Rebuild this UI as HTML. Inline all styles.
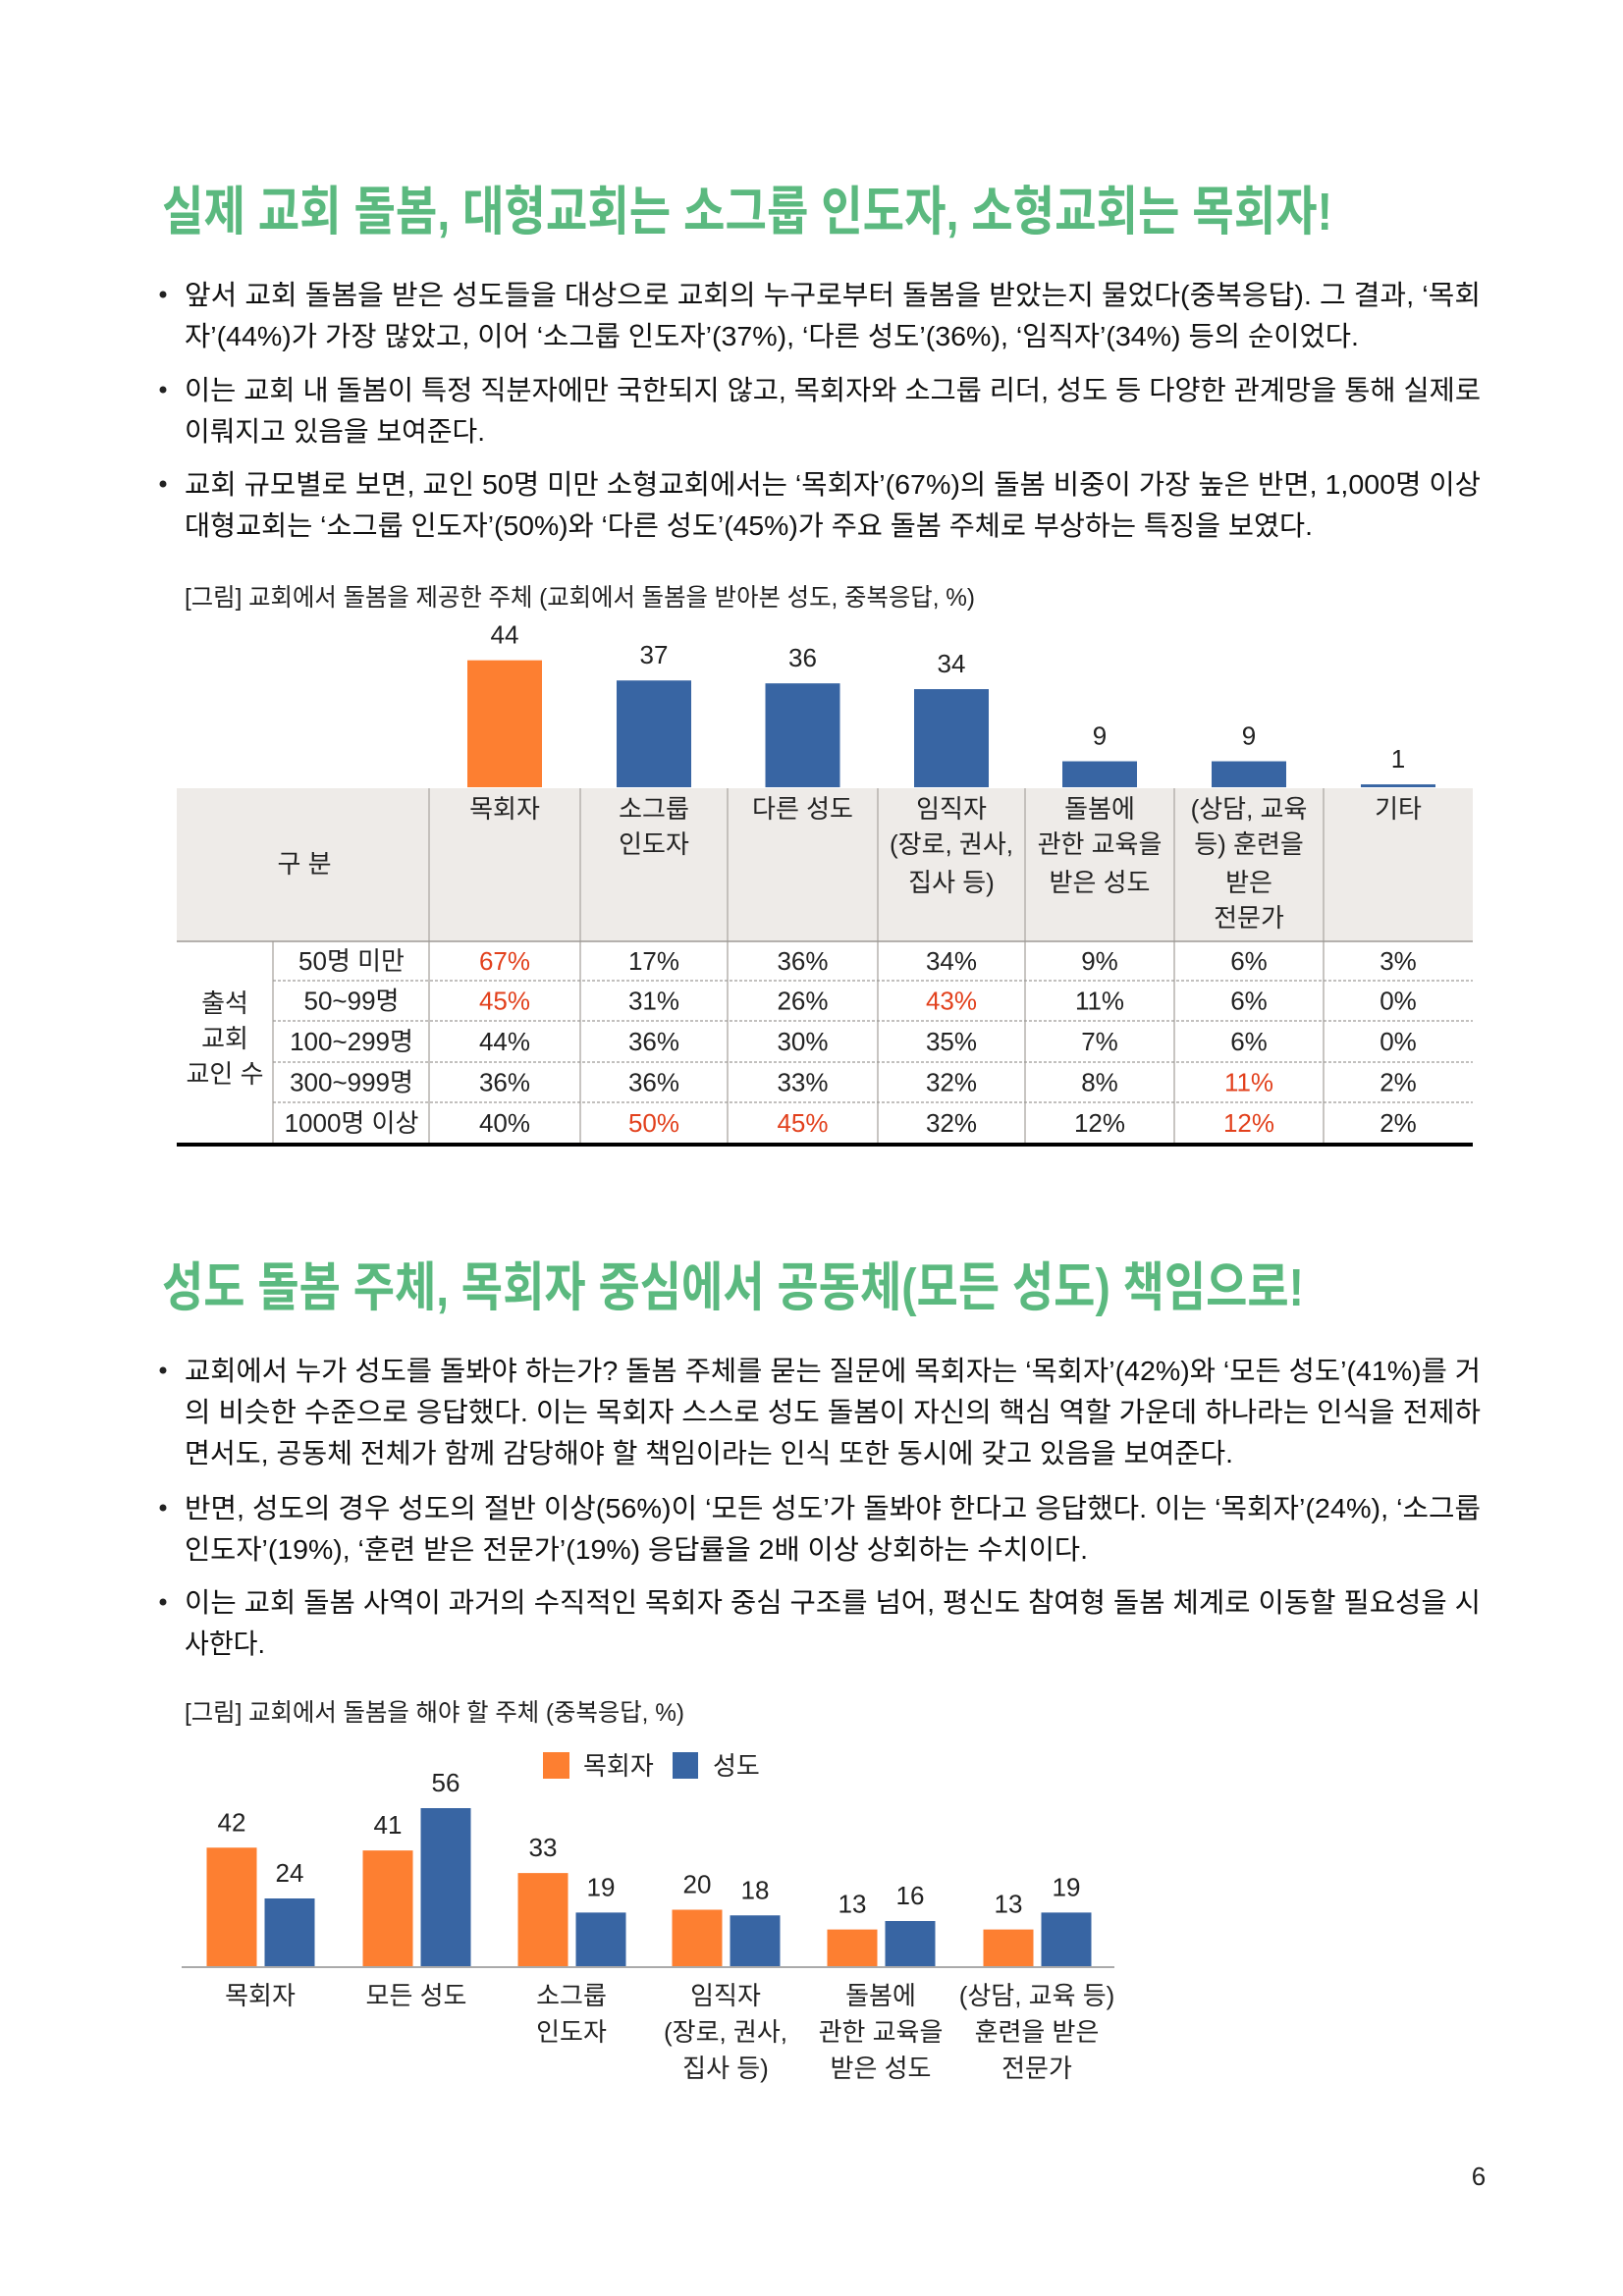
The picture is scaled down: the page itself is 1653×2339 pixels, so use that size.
<!DOCTYPE html>
<html><head><meta charset="utf-8"><style>
html,body{margin:0;padding:0;background:#fff;}
svg{display:block;}
text{font-family:"Liberation Sans","Noto Sans CJK KR",sans-serif;}
.t{font-size:54px;font-weight:bold;fill:#5bb97f;}
.b{font-size:28px;fill:#111;}
.c{font-size:25px;fill:#222;}
.h{font-size:26px;fill:#222;}
.n{font-size:26px;fill:#222;}
</style></head><body>
<svg id="page" width="1653" height="2339" viewBox="0 0 1653 2339" xmlns="http://www.w3.org/2000/svg">
<text class="t" x="165" y="234" textLength="1192" lengthAdjust="spacingAndGlyphs">실제 교회 돌봄, 대형교회는 소그룹 인도자, 소형교회는 목회자!</text>
<g>
<circle cx="166" cy="300" r="3.5" fill="#222"/>
<text class="b" x="188" y="310" textLength="1320" lengthAdjust="spacingAndGlyphs">앞서 교회 돌봄을 받은 성도들을 대상으로 교회의 누구로부터 돌봄을 받았는지 물었다(중복응답). 그 결과, ‘목회</text>
<text class="b" x="188" y="352" textLength="1196" lengthAdjust="spacingAndGlyphs">자’(44%)가 가장 많았고, 이어 ‘소그룹 인도자’(37%), ‘다른 성도’(36%), ‘임직자’(34%) 등의 순이었다.</text>
<circle cx="166" cy="397" r="3.5" fill="#222"/>
<text class="b" x="188" y="407" textLength="1320" lengthAdjust="spacingAndGlyphs">이는 교회 내 돌봄이 특정 직분자에만 국한되지 않고, 목회자와 소그룹 리더, 성도 등 다양한 관계망을 통해 실제로</text>
<text class="b" x="188" y="449" textLength="306" lengthAdjust="spacingAndGlyphs">이뤄지고 있음을 보여준다.</text>
<circle cx="166" cy="493" r="3.5" fill="#222"/>
<text class="b" x="188" y="503" textLength="1320" lengthAdjust="spacingAndGlyphs">교회 규모별로 보면, 교인 50명 미만 소형교회에서는 ‘목회자’(67%)의 돌봄 비중이 가장 높은 반면, 1,000명 이상</text>
<text class="b" x="188" y="545" textLength="1149" lengthAdjust="spacingAndGlyphs">대형교회는 ‘소그룹 인도자’(50%)와 ‘다른 성도’(45%)가 주요 돌봄 주체로 부상하는 특징을 보였다.</text>
</g>
<text class="c" x="188" y="617" textLength="805" lengthAdjust="spacingAndGlyphs">[그림] 교회에서 돌봄을 제공한 주체 (교회에서 돌봄을 받아본 성도, 중복응답, %)</text>

<g id="table">
<rect x="180" y="803" width="1320" height="156" fill="#eeebe8"/>
<text class="h" x="310" y="889" text-anchor="middle">구 분</text>
<g id="hdr"></g>
<g id="grid"></g>
<text class="h" text-anchor="middle"><tspan x="229" y="1031">출석</tspan><tspan x="229" y="1067">교회</tspan><tspan x="229" y="1103">교인 수</tspan></text>
<g id="cells"></g>
</g>
<g id="chart1"></g>

<text class="t" x="165" y="1330" textLength="1163" lengthAdjust="spacingAndGlyphs">성도 돌봄 주체, 목회자 중심에서 공동체(모든 성도) 책임으로!</text>
<g>
<circle cx="166" cy="1396" r="3.5" fill="#222"/>
<text class="b" x="188" y="1406" textLength="1320" lengthAdjust="spacingAndGlyphs">교회에서 누가 성도를 돌봐야 하는가? 돌봄 주체를 묻는 질문에 목회자는 ‘목회자’(42%)와 ‘모든 성도’(41%)를 거</text>
<text class="b" x="188" y="1448" textLength="1320" lengthAdjust="spacingAndGlyphs">의 비슷한 수준으로 응답했다. 이는 목회자 스스로 성도 돌봄이 자신의 핵심 역할 가운데 하나라는 인식을 전제하</text>
<text class="b" x="188" y="1490" textLength="1068" lengthAdjust="spacingAndGlyphs">면서도, 공동체 전체가 함께 감당해야 할 책임이라는 인식 또한 동시에 갖고 있음을 보여준다.</text>
<circle cx="166" cy="1536" r="3.5" fill="#222"/>
<text class="b" x="188" y="1546" textLength="1320" lengthAdjust="spacingAndGlyphs">반면, 성도의 경우 성도의 절반 이상(56%)이 ‘모든 성도’가 돌봐야 한다고 응답했다. 이는 ‘목회자’(24%), ‘소그룹</text>
<text class="b" x="188" y="1588" textLength="920" lengthAdjust="spacingAndGlyphs">인도자’(19%), ‘훈련 받은 전문가’(19%) 응답률을 2배 이상 상회하는 수치이다.</text>
<circle cx="166" cy="1632" r="3.5" fill="#222"/>
<text class="b" x="188" y="1642" textLength="1320" lengthAdjust="spacingAndGlyphs">이는 교회 돌봄 사역이 과거의 수직적인 목회자 중심 구조를 넘어, 평신도 참여형 돌봄 체계로 이동할 필요성을 시</text>
<text class="b" x="188" y="1684" textLength="82" lengthAdjust="spacingAndGlyphs">사한다.</text>
</g>
<text class="c" x="188" y="1753" textLength="509" lengthAdjust="spacingAndGlyphs">[그림] 교회에서 돌봄을 해야 할 주체 (중복응답, %)</text>
<g>
<rect x="553" y="1785" width="27" height="27" fill="#fd7f31"/>
<text class="n" x="594" y="1808">목회자</text>
<rect x="685" y="1785" width="26" height="27" fill="#3865a3"/>
<text class="n" x="726" y="1808">성도</text>
</g>
<g id="chart2"></g>
<text class="n" x="1506" y="2226" text-anchor="middle">6</text>
</svg>
<script>
// Chart 1 data
const cats1 = ['목회자','소그룹 인도자','다른 성도','임직자','돌봄에 관한 교육을 받은 성도','(상담, 교육 등) 훈련을 받은 전문가','기타'];
const vals1 = [44,37,36,34,9,9,1];
const headerLines = [['목회자'],['소그룹','인도자'],['다른 성도'],['임직자','(장로, 권사,','집사  등)'],['돌봄에','관한 교육을','받은 성도'],['(상담, 교육','등) 훈련을','받은','전문가'],['기타']];
const rowLabels = ['50명 미만','50~99명','100~299명','300~999명','1000명 이상'];
const tableVals = [
 [67,17,36,34,9,6,3],
 [45,31,26,43,11,6,0],
 [44,36,30,35,7,6,0],
 [36,36,33,32,8,11,2],
 [40,50,45,32,12,12,2]];
const highlights = [[0,0],[1,0],[1,3],[3,5],[4,1],[4,2],[4,5]];
// Chart 2 data
const cats2 = [['목회자'],['모든 성도'],['소그룹','인도자'],['임직자','(장로, 권사,','집사 등)'],['돌봄에','관한 교육을','받은 성도'],['(상담, 교육 등)','훈련을 받은','전문가']];
const pastorVals = [42,41,33,20,13,13];
const memberVals = [24,56,19,18,16,19];

const NS='http://www.w3.org/2000/svg';
function mk(tag,attrs,parent,txt){const e=document.createElementNS(NS,tag);for(const k in attrs)e.setAttribute(k,attrs[k]);if(txt!==undefined)e.textContent=txt;parent.appendChild(e);return e;}
const ORANGE='#fd7f31',BLUE='#3865a3';

const colEdges=[437,591,741,894,1044,1196,1348,1500];
const rowEdges=[959,999,1040,1082,1123,1165];
const colX=i=>(colEdges[i]+colEdges[i+1])/2;

const c1=document.getElementById('chart1');
const base1=802, k1=2.94, bw1=76;
const y1=v=>base1-v*k1;
vals1.forEach((v,i)=>{
  const r=mk('rect',{x:colX(i)-bw1/2,y:y1(v),width:bw1,height:v*k1,fill:i===0?ORANGE:BLUE},c1);
  
  
  const t=mk('text',{x:colX(i),y:y1(v)-17,'text-anchor':'middle',class:'n'},c1,String(v));
  
  
});

const hdr=document.getElementById('hdr');
const hy=[833,869,908,944];
headerLines.forEach((lines,i)=>{
  lines.forEach((ln,j)=>{
    const t=mk('text',{x:colX(i),y:hy[j],'text-anchor':'middle',class:'h'},hdr,ln);
    
    
  });
});
const g=document.getElementById('grid');
colEdges.slice(0,7).forEach(x=>mk('line',{x1:x,y1:803,x2:x,y2:1165,stroke:'#b5b2ae','stroke-width':1.5},g));
mk('line',{x1:278,y1:959,x2:278,y2:1165,stroke:'#b5b2ae','stroke-width':1.5},g);
mk('line',{x1:180,y1:959,x2:1500,y2:959,stroke:'#9d9a96','stroke-width':1.5},g);
for(let r=1;r<5;r++)mk('line',{x1:278,y1:rowEdges[r],x2:1500,y2:rowEdges[r],stroke:'#9d9a96','stroke-width':1.3,'stroke-dasharray':'3,2'},g);
mk('line',{x1:180,y1:1166,x2:1500,y2:1166,stroke:'#000','stroke-width':4},g);
const cells=document.getElementById('cells');
rowLabels.forEach((lab,r)=>{
  const cy=(rowEdges[r]+rowEdges[r+1])/2+9;
  const t=mk('text',{x:358,y:cy,'text-anchor':'middle',class:'h'},cells,lab);
  
  
  tableVals[r].forEach((v,c)=>{
    const red=highlights.some(h=>h[0]===r&&h[1]===c);
    const e=mk('text',{x:colX(c),y:cy,'text-anchor':'middle',class:'h',style:red?'fill:#e2401c':''},cells,v+'%');
    
    
  });
});

const c2=document.getElementById('chart2');
const base2=2003, k2=2.875, bw2=51;
const groupX=[265,424,582,739,897,1056];
const y2=v=>base2-v*k2;
mk('line',{x1:185,y1:base2+1,x2:1135,y2:base2+1,stroke:'#aaa','stroke-width':2},c2);
cats2.forEach((lines,i)=>{
  [[pastorVals[i],-29,ORANGE,'pastor'],[memberVals[i],30,BLUE,'member']].forEach(([v,off,col,nm])=>{
    const r=mk('rect',{x:groupX[i]+off-bw2/2,y:y2(v),width:bw2,height:v*k2,fill:col},c2);
    
    
    const t=mk('text',{x:groupX[i]+off,y:y2(v)-17,'text-anchor':'middle',class:'n'},c2,String(v));
    
    
  });
  lines.forEach((ln,j)=>{
    const t=mk('text',{x:groupX[i],y:2042+j*37,'text-anchor':'middle',class:'h'},c2,ln);
    
    
  });
});
</script>
</body></html>
